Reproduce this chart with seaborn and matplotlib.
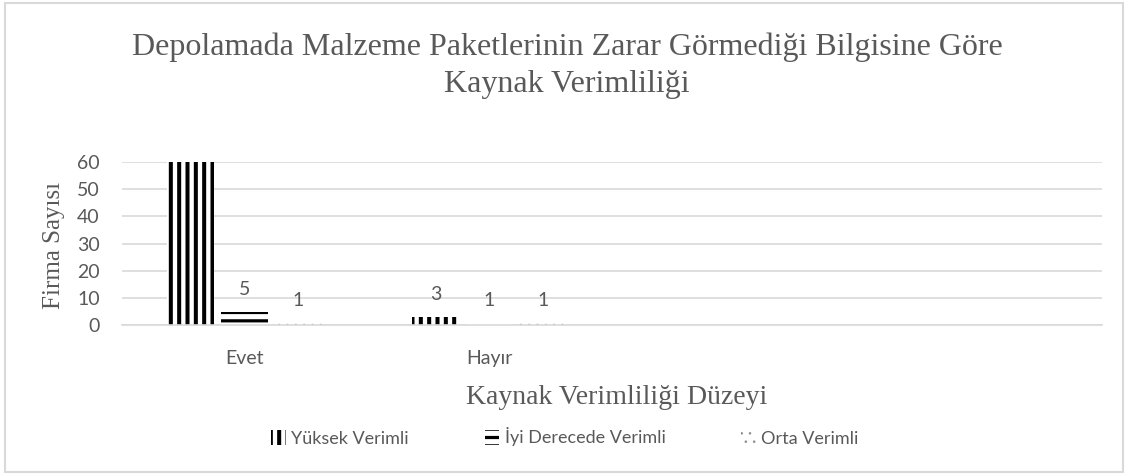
import matplotlib
matplotlib.use("Agg")
import matplotlib.pyplot as plt
from matplotlib.patches import Patch, Rectangle
from matplotlib.legend_handler import HandlerPatch
import seaborn as sns
import pandas as pd

# ---- data ----
categories = ["Evet", "Hayır"]
series = ["Yüksek Verimli", "İyi Derecede Verimli", "Orta Verimli"]
yuksek = [60, 3]
iyi = [5, 1]
orta = [1, 1]
yticks = [0, 10, 20, 30, 40, 50, 60]

title = "Depolamada Malzeme Paketlerinin Zarar Görmediği Bilgisine Göre\nKaynak Verimliliği"
xlabel = "Kaynak Verimliliği Düzeyi"
ylabel = "Firma Sayısı"

rows = []
for s, vals in zip(series, [yuksek, iyi, orta]):
    for c, v in zip(categories, vals):
        rows.append({"Düzey": c, "Firma": v, "Seri": s})
df = pd.DataFrame(rows)

sns.set_theme(style="white")
plt.rcParams["font.family"] = ["Lato", "DejaVu Sans"]

TXT = "#595959"
GRID = "#d9d9d9"
SERIF = ["Liberation Serif", "DejaVu Serif"]

styles = {
    "Yüksek Verimli": dict(hatch="||", color="black", hlw=2.9),
    "İyi Derecede Verimli": dict(hatch="--", color="black", hlw=2.3),
    "Orta Verimli": dict(hatch="..", color="#8c8c8c", hlw=0.6),
}

fig = plt.figure(figsize=(11.3, 4.75), dpi=100)
ax = fig.add_axes([0.108, 0.315, 0.867, 0.344])

sns.barplot(data=df, x="Düzey", y="Firma", hue="Seri", order=categories,
            hue_order=series, width=0.66, gap=0.12, palette=["white"] * 3,
            linewidth=0, legend=False, ax=ax)

for cont, s in zip(ax.containers, series):
    st = styles[s]
    for p in cont:
        p.set_facecolor("white")
        p.set_edgecolor(st["color"])
        p.set_linewidth(0)
        p.set_hatch(st["hatch"])
        if hasattr(p, "set_hatch_linewidth"):
            p.set_hatch_linewidth(st["hlw"])
    ax.bar_label(cont, labels=[f"{v:g}" for v in cont.datavalues],
                 padding=10, fontsize=14, color=TXT, clip_on=True)

ax.set_xlim(-0.5, 3.5)
ax.set_ylim(0, 60)
ax.set_yticks(yticks)
ax.yaxis.grid(True, color=GRID, linewidth=1.2)
ax.set_axisbelow(True)
for sp in ["top", "right", "left"]:
    ax.spines[sp].set_visible(False)
ax.spines["bottom"].set_color(GRID)
ax.spines["bottom"].set_linewidth(1.2)
ax.tick_params(axis="both", length=0, labelsize=14, colors=TXT)
ax.tick_params(axis="y", pad=16)
ax.tick_params(axis="x", pad=18)
ax.set_xlabel("")
ax.set_ylabel("")

fig.text(0.502, 0.862, title, ha="center", va="center", multialignment="center",
         fontsize=23, color=TXT, family=SERIF, linespacing=1.38)
fig.text(0.546, 0.164, xlabel, ha="center", va="center", fontsize=20,
         color=TXT, family=SERIF)
fig.text(0.048, 0.484, ylabel, ha="center", va="center", rotation=90,
         fontsize=18, color=TXT, family=SERIF)


class HatchHandler(HandlerPatch):
    def create_artists(self, legend, orig_handle, *args, **kwargs):
        arts = super().create_artists(legend, orig_handle, *args, **kwargs)
        for a in arts:
            a.set_hatch(orig_handle.get_hatch())
            a.set_edgecolor(orig_handle.get_edgecolor())
            a.set_linewidth(0)
            if hasattr(a, "set_hatch_linewidth"):
                a.set_hatch_linewidth(orig_handle._lw_hatch)
        return arts


handles = []
for s in series:
    st = styles[s]
    h = Patch(facecolor="white", edgecolor=st["color"], hatch=st["hatch"], linewidth=0)
    h._lw_hatch = st["hlw"]
    handles.append(h)
fig.legend(handles, series, loc="center", bbox_to_anchor=(0.5, 0.08), ncol=3,
           frameon=False, fontsize=13, labelcolor=TXT, handlelength=0.8,
           handleheight=0.9, handletextpad=0.3, columnspacing=4.2,
           handler_map={Patch: HatchHandler()})

fig.patches.append(Rectangle((0.004, 0.006), 0.99, 0.987, transform=fig.transFigure,
                             fill=False, edgecolor=GRID, linewidth=1.5))

fig.savefig("out.png", dpi=100, facecolor="white")
